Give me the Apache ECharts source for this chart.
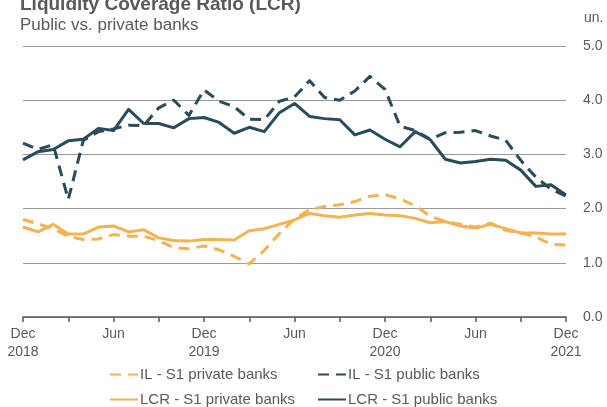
<!DOCTYPE html>
<html>
<head>
<meta charset="utf-8">
<script src="https://cdn.jsdelivr.net/npm/echarts@6/dist/echarts.min.js"></script>
<style>
html,body{margin:0;padding:0;background:#fff;}
#chart{width:607px;height:407px;}
</style>
</head>
<body>
<div id="chart"></div>
<script>
// Monthly categories Dec 2018 .. Dec 2021
var months = ["2018-12","2019-01","2019-02","2019-03","2019-04","2019-05","2019-06","2019-07","2019-08","2019-09","2019-10","2019-11",
"2019-12","2020-01","2020-02","2020-03","2020-04","2020-05","2020-06","2020-07","2020-08","2020-09","2020-10","2020-11",
"2020-12","2021-01","2021-02","2021-03","2021-04","2021-05","2021-06","2021-07","2021-08","2021-09","2021-10","2021-11","2021-12"];
var tickLabels = ["Dec\n2018","Jun","Dec\n2019","Jun","Dec\n2020","Jun","Dec\n2021"];
var yTicks = [0,1,2,3,4,5];

var ilPrivate = [1.80,1.72,1.63,1.49,1.43,1.44,1.52,1.49,1.49,1.41,1.28,1.26,1.31,1.24,1.12,0.98,1.23,1.54,1.81,1.98,
2.04,2.07,2.13,2.23,2.26,2.18,2.05,1.86,1.76,1.71,1.66,1.73,1.60,1.55,1.48,1.34,1.33];
var ilPublic = [3.21,3.09,3.18,2.17,3.26,3.42,3.47,3.54,3.53,3.86,4.00,3.72,4.19,3.98,3.88,3.65,3.64,3.98,4.06,4.36,
4.05,4.00,4.17,4.44,4.20,3.52,3.44,3.28,3.40,3.41,3.44,3.34,3.26,2.89,2.58,2.36,2.23];
var lcrPrivate = [1.66,1.57,1.71,1.53,1.53,1.66,1.68,1.57,1.61,1.46,1.41,1.40,1.43,1.43,1.42,1.59,1.63,1.71,1.79,1.91,
1.87,1.84,1.88,1.91,1.88,1.87,1.82,1.74,1.76,1.68,1.64,1.71,1.63,1.55,1.55,1.53,1.53];
var lcrPublic = [2.90,3.05,3.09,3.25,3.28,3.48,3.44,3.83,3.57,3.57,3.49,3.66,3.68,3.59,3.39,3.50,3.42,3.77,3.94,3.70,
3.66,3.64,3.36,3.45,3.28,3.14,3.42,3.27,2.91,2.84,2.87,2.91,2.89,2.71,2.41,2.44,2.25];

var seriesNames = ["IL - S1 private banks","IL - S1 public banks","LCR - S1 private banks","LCR - S1 public banks"];

var ORANGE = "#F4B350";
var NAVY = "#294B5A";
var TXT = "#595959";
var FONT = "Liberation Sans, Arial, sans-serif";

var chart = echarts.init(document.getElementById("chart"), null, {renderer:"canvas"});

function mk(name, data, color, dashed, z){
  return {
    name: name, type: "line", data: data, symbol: "none", showSymbol: false,
    z: z, animation: false,
    lineStyle: {color: color, width: 3, type: dashed ? [11,7] : "solid", cap: "butt", join: "round"},
    itemStyle: {color: color}
  };
}

var legendCommon = {
  top: 367, orient: "vertical", itemWidth: 28, itemHeight: 14, itemGap: 10, padding: 0,
  itemStyle: {opacity: 0},
  textStyle: {color: TXT, fontSize: 15, padding: [0,0,0,-3], fontFamily: FONT}
};

chart.setOption({
  animation: false,
  textStyle: {fontFamily: FONT},
  graphic: [
    {type:"text", left: 20, top: -5, style:{text:"Liquidity Coverage Ratio (LCR)", font:"bold 19px " + FONT, fill: TXT}},
    {type:"text", left: 20, top: 17, style:{text:"Public vs. private banks", font:"17px " + FONT, fill: TXT}},
    {type:"text", left: 584, top: 11, style:{text:"un.", font:"14px " + FONT, fill: TXT}}
  ],
  grid: {left: 23, right: 41, top: 46, bottom: 90, containLabel: false},
  xAxis: {
    type: "category", data: months, boundaryGap: false,
    axisLine: {show: true, lineStyle: {color: "#595959", width: 1.5}},
    axisTick: {show: true, interval: 2, length: 5, inside: false, lineStyle: {color: "#595959", width: 1.5}},
    axisLabel: {
      interval: 0, color: TXT, fontSize: 14, lineHeight: 18, margin: 8, fontFamily: FONT,
      formatter: function(v, i){ return (i % 6 === 0) ? tickLabels[i/6] : ""; }
    },
    splitLine: {show: false}
  },
  yAxis: {
    type: "value", position: "right", min: yTicks[0], max: yTicks[yTicks.length-1], interval: 1,
    axisLine: {show: false}, axisTick: {show: false},
    axisLabel: {color: TXT, fontSize: 14, margin: 17, fontFamily: FONT, formatter: function(v){ return v.toFixed(1); }},
    splitLine: {show: true, lineStyle: {color: "#9a9a9a", width: 1}}
  },
  legend: [
    Object.assign({left: 109, data: [seriesNames[0], seriesNames[2]]}, legendCommon),
    Object.assign({left: 317, data: [seriesNames[1], seriesNames[3]]}, legendCommon)
  ],
  series: [
    mk(seriesNames[0], ilPrivate, ORANGE, true, 2),
    mk(seriesNames[1], ilPublic, NAVY, true, 2),
    mk(seriesNames[2], lcrPrivate, ORANGE, false, 3),
    mk(seriesNames[3], lcrPublic, NAVY, false, 3)
  ]
});
</script>
</body>
</html>
